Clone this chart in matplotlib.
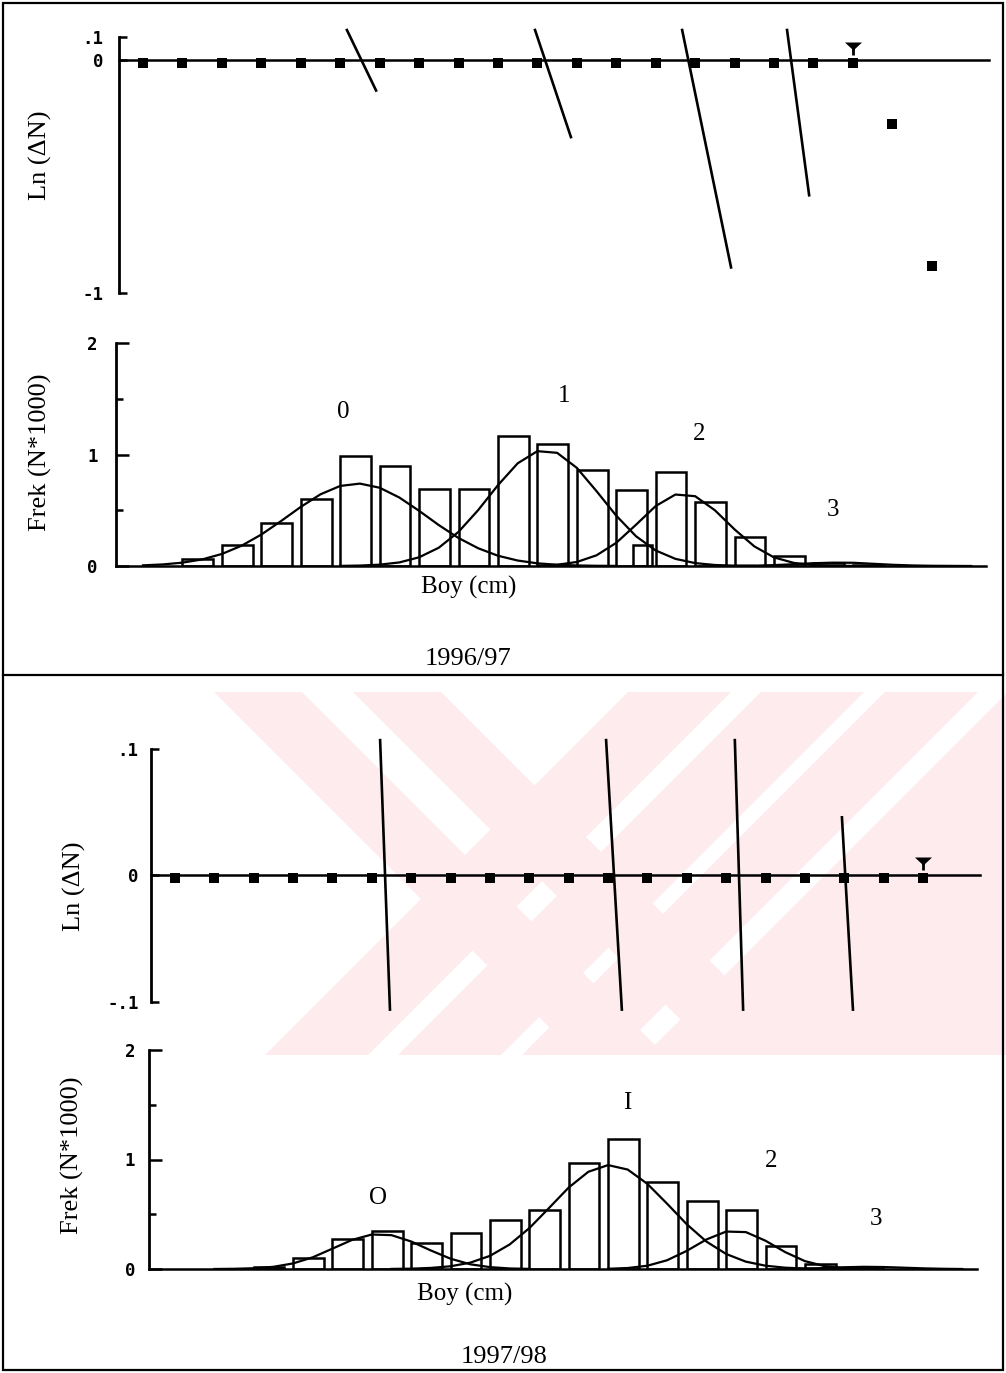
import matplotlib
matplotlib.use("Agg")
import matplotlib.pyplot as plt
from matplotlib.path import Path
from matplotlib.patches import Rectangle, Polygon
from matplotlib.lines import Line2D

# ---------------- 1996/97 ----------------
# Ln(dN) panel: class index of each point and its value
sq96_x = [1, 2, 3, 4, 5, 6, 7, 8, 9, 10, 11, 12, 13, 14, 15, 16, 17, 18, 19, 20, 21]
sq96_y = [0, 0, 0, 0, 0, 0, 0, 0, 0, 0, 0, 0, 0, 0, 0, 0, 0, 0, 0, -0.26, -0.87]
tri96_x = 19
# regression line segments (start / end)
cut96_x0 = [6.17, 10.94, 14.67, 17.33]
cut96_y0 = [0.13, 0.13, 0.13, 0.13]
cut96_x1 = [6.91, 11.85, 15.91, 17.89]
cut96_y1 = [-0.13, -0.33, -0.89, -0.58]

# length frequency (N*1000)
bar96_x = [2, 3, 4, 5, 6, 7, 8, 9, 10, 11, 12, 13, 14, 15, 16, 17, 18, 19]
bar96_h = [0.06, 0.19, 0.39, 0.60, 0.99, 0.90, 0.69, 0.69, 1.17, 1.09,
           0.86, 0.68, 0.84, 0.57, 0.26, 0.09, 0.03, 0.01]
extra96 = (13.43, 0.48, 0.19)  # stray small box (x, width, height)

c0_96_x = [1, 1.5, 2, 2.5, 3, 3.5, 4, 4.5, 5, 5.5, 6, 6.5, 7, 7.5, 8, 8.5, 9,
           9.5, 10, 10.5, 11, 11.5, 12, 12.5, 13]
c0_96_y = [0.006, 0.014, 0.030, 0.059, 0.108, 0.182, 0.282, 0.403, 0.530, 0.643,
           0.718, 0.739, 0.702, 0.614, 0.495, 0.367, 0.251, 0.159, 0.092, 0.049,
           0.024, 0.011, 0.005, 0.002, 0.001]
c1_96_x = [6, 6.5, 7, 7.5, 8, 8.5, 9, 9.5, 10, 10.5, 11, 11.5, 12, 12.5, 13,
           13.5, 14, 14.5, 15, 15.5, 16, 16.5]
c1_96_y = [0.001, 0.004, 0.012, 0.032, 0.078, 0.164, 0.306, 0.502, 0.725, 0.921,
           1.030, 1.015, 0.880, 0.671, 0.451, 0.267, 0.139, 0.064, 0.026, 0.009,
           0.003, 0.001]
c2_96_x = [11, 11.5, 12, 12.5, 13, 13.5, 14, 14.5, 15, 15.5, 16, 16.5, 17, 17.5,
           18, 18.5, 19]
c2_96_y = [0.003, 0.011, 0.036, 0.096, 0.208, 0.370, 0.538, 0.641, 0.626, 0.500,
           0.328, 0.176, 0.077, 0.028, 0.008, 0.002, 0.001]
c3_96_x = [16, 16.5, 17, 17.5, 18, 18.5, 19, 19.5, 20, 20.5, 21, 21.5, 22]
c3_96_y = [0.001, 0.003, 0.008, 0.016, 0.025, 0.030, 0.029, 0.020, 0.011, 0.005,
           0.002, 0.001, 0.0]
grp96 = ["0", "1", "2", "3"]

# ---------------- 1997/98 ----------------
sq97_x = [1, 2, 3, 4, 5, 6, 7, 8, 9, 10, 11, 12, 13, 14, 15, 16, 17, 18, 19, 20]
sq97_y = [0] * 20
tri97_x = 20
cut97_x0 = [6.21, 11.95, 15.22, 17.94]
cut97_y0 = [0.107, 0.107, 0.107, 0.046]
cut97_x1 = [6.46, 12.35, 15.43, 18.22]
cut97_y1 = [-0.106, -0.106, -0.106, -0.106]

bar97_x = [3, 4, 5, 6, 7, 8, 9, 10, 11, 12, 13, 14, 15, 16, 17, 18]
bar97_h = [0.02, 0.10, 0.27, 0.35, 0.24, 0.33, 0.45, 0.54, 0.97, 1.19,
           0.79, 0.62, 0.54, 0.21, 0.05, 0.01]

c0_97_x = [2, 2.5, 3, 3.5, 4, 4.5, 5, 5.5, 6, 6.5, 7, 7.5, 8, 8.5, 9, 9.5, 10]
c0_97_y = [0.000, 0.002, 0.007, 0.020, 0.051, 0.107, 0.186, 0.266, 0.315, 0.309,
           0.251, 0.169, 0.094, 0.043, 0.017, 0.005, 0.001]
c1_97_x = [6.5, 7, 7.5, 8, 8.5, 9, 9.5, 10, 10.5, 11, 11.5, 12, 12.5, 13, 13.5,
           14, 14.5, 15, 15.5, 16, 16.5, 17, 17.5]
c1_97_y = [0.001, 0.003, 0.010, 0.025, 0.058, 0.120, 0.224, 0.373, 0.557, 0.744,
           0.888, 0.949, 0.908, 0.777, 0.596, 0.408, 0.250, 0.137, 0.067, 0.030,
           0.012, 0.004, 0.001]
c2_97_x = [12, 12.5, 13, 13.5, 14, 14.5, 15, 15.5, 16, 16.5, 17, 17.5, 18, 18.5, 19]
c2_97_y = [0.002, 0.009, 0.030, 0.080, 0.166, 0.270, 0.342, 0.337, 0.258, 0.154,
           0.072, 0.026, 0.007, 0.002, 0.000]
c3_97_x = [16.5, 17, 17.5, 18, 18.5, 19, 19.5, 20, 20.5, 21]
c3_97_y = [0.001, 0.004, 0.009, 0.016, 0.020, 0.018, 0.012, 0.006, 0.002, 0.0]
grp97 = ["O", "I", "2", "3"]

W, H = 1006, 1373
SERIF = "Liberation Serif"
MONO = "DejaVu Sans Mono"
PINK = "#fdebee"
fig = plt.figure(figsize=(W / 100, H / 100), dpi=100)


def fx(x):
    return x / W


def fy(y):
    return 1 - y / H


# faint diagonal watermark behind the lower chart (pixel units)
wm_box = (212, 692, 1006, 1055)
wm_back = [(-478, -390), (-339, -251)]           # "\" stripes, x - y range
wm_fwd = [(1320, 1423), (1453, 1556), (1577, 1670), (1700, 3000)]  # "/" stripes, x + y
clip = Rectangle((fx(wm_box[0]), fy(wm_box[3])), (wm_box[2] - wm_box[0]) / W,
                 (wm_box[3] - wm_box[1]) / H, transform=fig.transFigure)
y0, y1 = wm_box[1], wm_box[3]
for a, b in wm_back:
    pts = [(y0 + a, y0), (y0 + b, y0), (y1 + b, y1), (y1 + a, y1)]
    p = Polygon([(fx(x), fy(y)) for x, y in pts], closed=True, transform=fig.transFigure,
                facecolor=PINK, edgecolor="none", zorder=-5)
    fig.add_artist(p)
    p.set_clip_path(clip)
for a, b in wm_fwd:
    pts = [(a - y0, y0), (b - y0, y0), (b - y1, y1), (a - y1, y1)]
    p = Polygon([(fx(x), fy(y)) for x, y in pts], closed=True, transform=fig.transFigure,
                facecolor=PINK, edgecolor="none", zorder=-5)
    fig.add_artist(p)
    p.set_clip_path(clip)


def add_ax(l, t, r, b, ref, step):
    # pixel box -> axes; x scale so that class 1 sits at pixel `ref`
    ax = fig.add_axes([fx(l), fy(b), (r - l) / W, (b - t) / H])
    ax.set_xlim(1 + (l - ref) / step, 1 + (r - ref) / step)
    ax.patch.set_alpha(0)
    ax.set_xticks([])
    for s in ["top", "right"]:
        ax.spines[s].set_visible(False)
    ax.spines["left"].set_linewidth(2.0)
    ax.spines["bottom"].set_linewidth(1.8)
    return ax


def tick_font(ax):
    for lab in ax.get_yticklabels():
        lab.set_family(MONO)
        lab.set_weight("bold")
        lab.set_fontsize(12.5)


# markers drawn in pixel units
sq_path = Path([(-4.8, -8), (4.8, -8), (4.8, 1.8), (-4.8, 1.8), (-4.8, -8)], closed=True)
sq_ms = 2 * 8 * 0.72
tri = Path([(-8.5, 18), (8.5, 18), (0, 10), (-8.5, 18)], closed=True)
stem = Path([(-1.4, 11), (1.4, 11), (1.4, 5), (-1.4, 5), (-1.4, 11)], closed=True)
tri_path = Path.make_compound_path(tri, stem)
tri_ms = 2 * 18 * 0.72


def ln_panel(ax, xs, ys, trix, x0, y0, x1, y1):
    ax.spines["bottom"].set_position(("data", 0))
    ax.plot(xs, ys, linestyle="none", marker=sq_path, ms=sq_ms, color="black",
            mew=0, clip_on=False, zorder=4)
    ax.plot([trix], [0], linestyle="none", marker=tri_path, ms=tri_ms, color="black",
            mew=0, clip_on=False, zorder=4)
    for a, b, c, d in zip(x0, y0, x1, y1):
        ax.plot([a, c], [b, d], color="black", lw=1.9, clip_on=False)
    ax.tick_params(axis="y", direction="in", length=6, width=1.8)


def fr_panel(ax, bx, bh, curves, pad):
    ax.set_ylim(0, 2)
    ax.bar(bx, bh, width=0.78, align="edge", fill=False, edgecolor="black", lw=1.8)
    for cx, cy in curves:
        ax.plot(cx, cy, color="black", lw=1.6)
    ax.set_yticks([0, 1, 2])
    ax.set_yticklabels(["0", "1", "2"])
    ax.set_yticks([0.5, 1.5], minor=True)
    ax.tick_params(axis="y", which="major", direction="in", length=9, width=1.8, pad=pad)
    ax.tick_params(axis="y", which="minor", direction="in", length=5, width=1.8)
    tick_font(ax)


# ---- 1996/97 ----
ax1 = add_ax(119, 37, 989, 293, 143, 39.44)
ax1.set_ylim(-1, 0.1)
ln_panel(ax1, sq96_x, sq96_y, tri96_x, cut96_x0, cut96_y0, cut96_x1, cut96_y1)
ax1.set_yticks([0.1, 0, -1])
ax1.set_yticklabels([".1", "0", "-1"])
ax1.tick_params(axis="y", pad=11)
tick_font(ax1)

ax2 = add_ax(116, 343, 986, 566, 143, 39.44)
fr_panel(ax2, bar96_x, bar96_h,
         [(c0_96_x, c0_96_y), (c1_96_x, c1_96_y), (c2_96_x, c2_96_y), (c3_96_x, c3_96_y)], 13)
ax2.bar([extra96[0]], [extra96[2]], width=extra96[1], align="edge", fill=False,
        edgecolor="black", lw=1.8)

# ---- 1997/98 ----
ax3 = add_ax(151, 749, 980, 1002, 175, 39.37)
ax3.set_ylim(-0.1, 0.1)
ln_panel(ax3, sq97_x, sq97_y, tri97_x, cut97_x0, cut97_y0, cut97_x1, cut97_y1)
ax3.set_yticks([0.1, 0, -0.1])
ax3.set_yticklabels([".1", "0", "-.1"])
ax3.tick_params(axis="y", pad=9)
tick_font(ax3)

ax4 = add_ax(149, 1050, 977, 1269, 175, 39.37)
fr_panel(ax4, bar97_x, bar97_h,
         [(c0_97_x, c0_97_y), (c1_97_x, c1_97_y), (c2_97_x, c2_97_y), (c3_97_x, c3_97_y)], 10)

# ---- texts ----
def txt(x, y, s, size=19, rot=0):
    fig.text(fx(x), fy(y), s, ha="center", va="center", family=SERIF,
             fontsize=size, rotation=rot)


txt(40, 155, "Ln (\u0394N)", rot=90)
txt(40, 452, "Frek (N*1000)", rot=90)
txt(74, 886, "Ln (\u0394N)", rot=90)
txt(72, 1155, "Frek (N*1000)", rot=90)

for s, (x, y) in zip(grp96, [(343, 412), (564, 396), (699, 434), (833, 510)]):
    txt(x, y, s, size=18)
for s, (x, y) in zip(grp97, [(378, 1198), (627, 1103), (771, 1161), (876, 1219)]):
    txt(x, y, s, size=18)

txt(469, 587, "Boy (cm)", size=18)
txt(465, 1294, "Boy (cm)", size=18)
txt(468, 659, "1996/97", size=19)
txt(504, 1357, "1997/98", size=19)

# frame and divider
fig.add_artist(Rectangle((fx(3), fy(1370)), 1000 / W, 1367 / H, transform=fig.transFigure,
                         fill=False, lw=1.6, edgecolor="black"))
fig.add_artist(Line2D([fx(3), fx(1003)], [fy(675), fy(675)], transform=fig.transFigure,
                      color="black", lw=1.6))

fig.savefig("out.png", dpi=100)
